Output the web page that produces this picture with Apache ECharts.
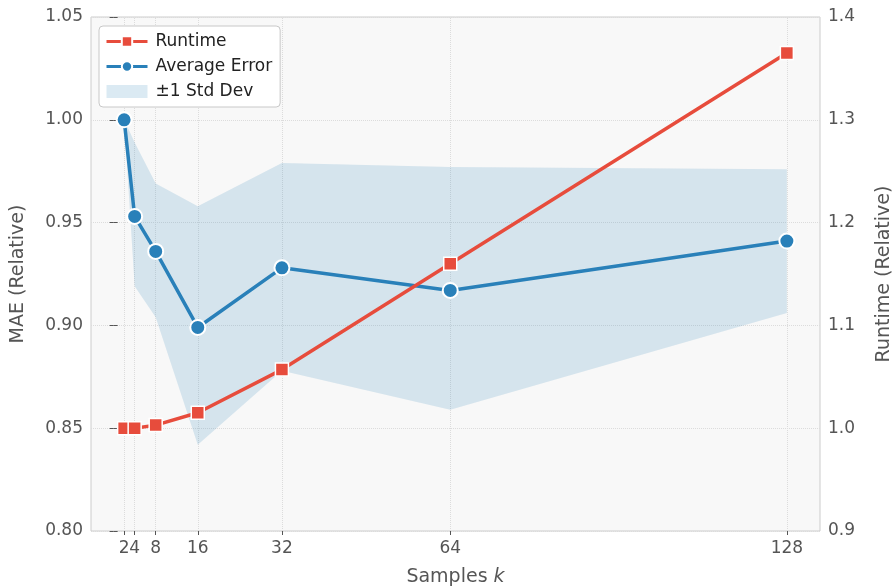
<!DOCTYPE html>
<html>
<head>
<meta charset="utf-8">
<script src="https://cdn.jsdelivr.net/npm/echarts@6/dist/echarts.min.js"></script>
<style>html,body{margin:0;padding:0;background:#fff}#c{width:894px;height:588px}</style>
</head>
<body>
<div id="c"></div>
<script>
const kValues = [2, 4, 8, 16, 32, 64, 128];
const avgError = [1.000, 0.953, 0.936, 0.899, 0.928, 0.917, 0.941];
const stdUpper = [1.000, 0.989, 0.969, 0.958, 0.979, 0.977, 0.976];
const stdLower = [1.000, 0.919, 0.904, 0.842, 0.878, 0.859, 0.906];
const runtime = [1.000, 1.000, 1.003, 1.015, 1.057, 1.160, 1.365];
const xLabelsMain = [2, 8, 16, 32, 64, 128];
const xLabelsExtra = [4];
const leftTicks = [0.80, 0.85, 0.90, 0.95, 1.00, 1.05];
const rightTicks = [0.9, 1.0, 1.1, 1.2, 1.3, 1.4];

const FONT = 'DejaVu Sans';
const RED = '#e74c3c';
const BLUE = '#2980b9';
const BAND = 'rgba(41,128,185,0.17)';

const chart = echarts.init(document.getElementById('c'), null, {renderer: 'canvas'});

const bandData = kValues.map((k, i) => [k, stdLower[i], stdUpper[i]]);

const xLabelStyle = {fontFamily: FONT, fontSize: 17, color: '#555', margin: 9, hideOverlap: false};

const option = {
  animation: false,
  textStyle: {fontFamily: FONT},
  grid: {
    left: 91, right: 74, top: 17, bottom: 57,
    outerBoundsMode: 'none',
    containLabel: false,
    show: true, backgroundColor: '#f8f8f8', borderColor: '#cccccc', borderWidth: 1
  },
  legend: {
    orient: 'vertical',
    left: 99, top: 26,
    padding: [7, 8, 7, 6],
    itemGap: 8,
    itemWidth: 41, itemHeight: 13,
    backgroundColor: '#ffffff',
    borderColor: '#c8c8c8', borderWidth: 1, borderRadius: 4,
    textStyle: {fontFamily: FONT, fontSize: 17, color: '#222', padding: [0, 0, 0, 3]},
    data: [
      {name: 'Runtime', lineStyle: {width: 3}},
      {name: 'Average Error', lineStyle: {width: 3}},
      {name: '±1 Std Dev', icon: 'rect', itemStyle: {color: BAND}}
    ]
  },
  xAxis: [
    {
      type: 'value',
      min: -4.3, max: 134.3,
      name: 'Samples {i|k}',
      nameLocation: 'middle',
      nameGap: 37,
      nameTextStyle: {fontFamily: FONT, fontSize: 19, color: '#555',
        rich: {i: {fontFamily: FONT, fontSize: 19, fontStyle: 'italic', color: '#555'}}},
      axisLine: {show: false},
      axisTick: {show: true, length: 4, lineStyle: {color: '#555'}, customValues: kValues},
      axisLabel: Object.assign({customValues: xLabelsMain, showMinLabel: true, showMaxLabel: true}, xLabelStyle),
      splitLine: {show: false}
    },
    {
      type: 'value',
      position: 'bottom',
      offset: 0,
      min: -4.3, max: 134.3,
      axisLine: {show: false},
      axisTick: {show: false},
      axisLabel: Object.assign({customValues: xLabelsExtra, showMinLabel: true, showMaxLabel: true}, xLabelStyle),
      splitLine: {show: false}
    }
  ],
  yAxis: [
    {
      type: 'value', min: 0.80, max: 1.05, interval: 0.05,
      position: 'left',
      name: 'MAE (Relative)', nameLocation: 'middle', nameGap: 63,
      nameTextStyle: {fontFamily: FONT, fontSize: 19, color: '#555'},
      axisLine: {show: false},
      axisTick: {show: true, length: 4, lineStyle: {color: '#555'}},
      axisLabel: {fontFamily: FONT, fontSize: 17, color: '#555', margin: 8,
        formatter: v => v.toFixed(2)},
      splitLine: {show: true, lineStyle: {color: '#dcdcdc', type: 'dotted', width: 1}}
    },
    {
      type: 'value', min: 0.9, max: 1.4, interval: 0.1,
      position: 'right',
      name: 'Runtime (Relative)', nameLocation: 'middle', nameGap: 55,
      nameTextStyle: {fontFamily: FONT, fontSize: 19, color: '#555'},
      axisLine: {show: false},
      axisTick: {show: true, length: 4, lineStyle: {color: '#555'}},
      axisLabel: {fontFamily: FONT, fontSize: 17, color: '#555', margin: 8,
        formatter: v => v.toFixed(1)},
      splitLine: {show: false}
    }
  ],
  series: [
    {
      name: '±1 Std Dev',
      type: 'custom',
      xAxisIndex: 0,
      yAxisIndex: 0,
      z: 1,
      itemStyle: {color: BAND},
      data: bandData,
      encode: {x: 0, y: [1, 2]},
      renderItem: function (params, api) {
        if (params.dataIndex !== 0) return null;
        const upperPts = bandData.map(d => api.coord([d[0], d[2]]));
        const lowerPts = bandData.map(d => api.coord([d[0], d[1]])).reverse();
        return {
          type: 'polygon',
          shape: {points: upperPts.concat(lowerPts)},
          style: {fill: BAND, stroke: null}
        };
      },
      markLine: {
        silent: true, symbol: 'none', animation: false, z: 0,
        label: {show: false},
        lineStyle: {color: '#dcdcdc', type: 'dotted', width: 1},
        data: kValues.map(k => ({xAxis: k}))
      }
    },
    {
      name: 'Average Error',
      type: 'line',
      xAxisIndex: 0,
      yAxisIndex: 0,
      z: 3,
      data: kValues.map((k, i) => [k, avgError[i]]),
      lineStyle: {color: BLUE, width: 3.5},
      itemStyle: {color: BLUE, borderColor: '#fff', borderWidth: 2},
      symbol: 'circle', symbolSize: 15,
      showAllSymbol: true
    },
    {
      name: 'Runtime',
      type: 'line',
      xAxisIndex: 0,
      yAxisIndex: 1,
      z: 4,
      data: kValues.map((k, i) => [k, runtime[i]]),
      lineStyle: {color: RED, width: 3.5},
      itemStyle: {color: RED, borderColor: '#fff', borderWidth: 1.5},
      symbol: 'rect', symbolSize: 13,
      showAllSymbol: true
    }
  ]
};
chart.setOption(option);
</script>
</body>
</html>
